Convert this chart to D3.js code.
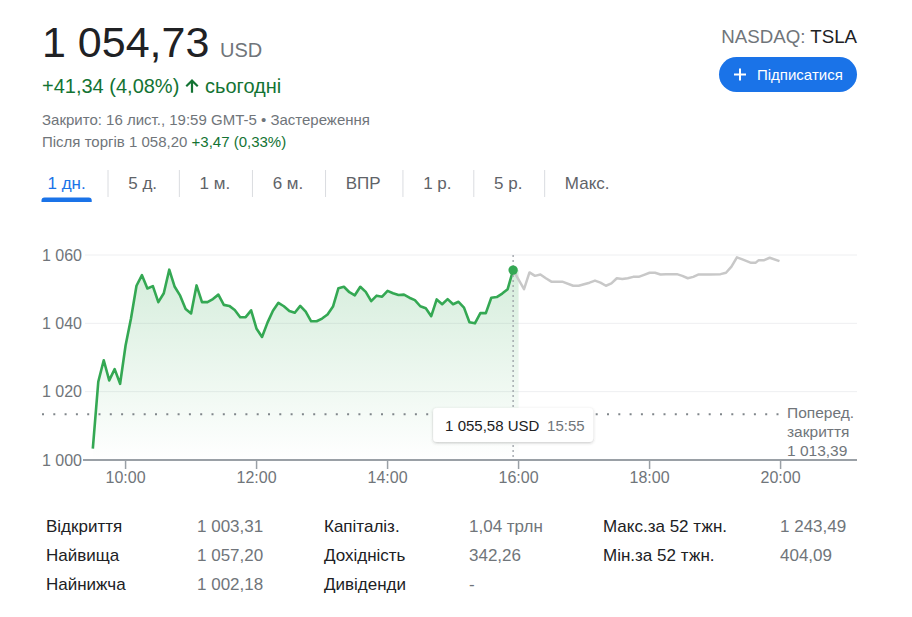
<!DOCTYPE html>
<html><head><meta charset="utf-8">
<script src="https://cdn.jsdelivr.net/npm/d3@7"></script>
<style>
body{margin:0;background:#fff}
svg{display:block}
text{font-family:Arial,"Liberation Sans",sans-serif}
</style>
</head><body>
<svg id="c" width="912" height="617"></svg>
<script>
// ---------- data ----------
const sessionTimes = ["9:30","9:35","9:40","9:45","9:50","9:55","10:00","10:05","10:10","10:15","10:20","10:25","10:30","10:35","10:40","10:45","10:50","10:55",
"11:00","11:05","11:10","11:15","11:20","11:25","11:30","11:35","11:40","11:45","11:50","11:55",
"12:00","12:05","12:10","12:15","12:20","12:25","12:30","12:35","12:40","12:45","12:50","12:55",
"13:00","13:05","13:10","13:15","13:20","13:25","13:30","13:35","13:40","13:45","13:50","13:55",
"14:00","14:05","14:10","14:15","14:20","14:25","14:30","14:35","14:40","14:45","14:50","14:55",
"15:00","15:05","15:10","15:15","15:20","15:25","15:30","15:35","15:40","15:45","15:50","15:55"];
const sessionValues = [1003.3,1022.9,1029.2,1023.3,1026.6,1022.3,1033.5,1041.5,1051.0,1054.1,1050.2,1050.9,1046.2,1048.8,1055.7,1050.7,1048.1,1044.2,
1042.9,1051.1,1046.2,1046.2,1047.1,1048.4,1045.4,1045.1,1043.9,1041.8,1041.8,1043.8,
1038.4,1036.0,1040.2,1043.7,1046.0,1045.0,1043.6,1043.1,1045.1,1043.4,1040.6,1040.6,
1041.4,1042.6,1044.9,1050.3,1050.7,1049.1,1048.2,1050.7,1049.2,1046.5,1048.1,1047.8,
1049.5,1048.8,1048.3,1048.4,1047.5,1046.8,1045.0,1044.4,1042.1,1047.0,1045.6,1047.1,
1045.6,1046.3,1044.6,1040.3,1040.0,1043.0,1043.0,1047.5,1047.7,1048.7,1050.0,1055.58];
const sessionEnd = "16:00";
const afterTimes = ["15:55","16:05","16:10","16:15","16:20","16:25","16:30","16:40","16:50","16:55","17:05","17:10","17:15","17:20","17:25","17:30","17:35","17:40","17:45","17:50","17:55",
"18:00","18:05","18:10","18:15","18:25","18:30","18:35","18:40","18:45","18:55","19:05","19:10","19:15","19:20","19:25","19:33","19:37","19:40","19:45","19:50","19:59"];
const afterValues = [1055.58,1050.0,1054.9,1053.9,1054.3,1053.2,1052.2,1052.2,1051.0,1051.0,1051.9,1052.5,1051.9,1051.0,1051.7,1053.2,1053.0,1053.2,1053.6,1053.6,1054.2,
1054.8,1054.8,1054.3,1054.4,1054.4,1053.9,1053.2,1053.6,1054.3,1054.3,1054.4,1054.8,1056.6,1059.3,1058.7,1057.7,1057.7,1058.5,1058.5,1059.2,1058.2];
const prevClose = 1013.39;
const yTickValues = [1000,1020,1040,1060];
const xTickLabels = ["10:00","12:00","14:00","16:00","18:00","20:00"];
const xDomain = ["9:21","21:10"];
const tabs = ["1 дн.","5 д.","1 м.","6 м.","ВПР","1 р.","5 р.","Макс."];
const statLabels1 = ["Відкриття","Найвища","Найнижча"];
const statValues1 = ["1 003,31","1 057,20","1 002,18"];
const statLabels2 = ["Капіталіз.","Дохідність","Дивіденди"];
const statValues2 = ["1,04 трлн","342,26","-"];
const statLabels3 = ["Макс.за 52 тжн.","Мін.за 52 тжн."];
const statValues3 = ["1 243,49","404,09"];

// ---------- helpers ----------
const GREEN="#34a853", DGREEN="#137333", GRAY="#70757a", DARK="#202124", BLUE="#1a73e8";
const loc = d3.formatLocale({decimal:",",thousands:" ",grouping:[3],currency:["",""]});
const f0 = loc.format(",.0f"), f2 = loc.format(",.2f");
const toMin = s => { const [h,m]=s.split(":").map(Number); return h*60+m; };

const svg = d3.select("#c");
const defs = svg.append("defs");
const grad = defs.append("linearGradient").attr("id","g").attr("gradientUnits","userSpaceOnUse")
  .attr("x1",0).attr("x2",0).attr("y1",255).attr("y2",460);
grad.append("stop").attr("offset",0).attr("stop-color",GREEN).attr("stop-opacity",0.22);
grad.append("stop").attr("offset",1).attr("stop-color",GREEN).attr("stop-opacity",0);
const sh = defs.append("filter").attr("id","sh").attr("x","-20%").attr("y","-40%").attr("width","140%").attr("height","200%");
sh.append("feDropShadow").attr("dx",0).attr("dy",1).attr("stdDeviation",1.5).attr("flood-color","#3c4043").attr("flood-opacity",0.3);

// ---------- header ----------
svg.append("text").attr("x",42).attr("y",57).attr("font-size",43).attr("fill",DARK).text("1 054,73");
svg.append("text").attr("x",220).attr("y",57).attr("font-size",20).attr("fill",GRAY).text("USD");
svg.append("text").attr("x",42).attr("y",93).attr("font-size",20).attr("fill",DGREEN).text("+41,34 (4,08%)");
svg.append("path").attr("fill",DGREEN)
  .attr("d","M192,79 L198.5,85.5 L197,87 L193.1,83.2 L193.1,92.8 L190.9,92.8 L190.9,83.2 L187,87 L185.5,85.5 Z");
svg.append("text").attr("x",205).attr("y",93).attr("font-size",20).attr("fill",DGREEN).text("сьогодні");
svg.append("text").attr("x",42).attr("y",124.5).attr("font-size",15).attr("fill",GRAY)
  .text("Закрито: 16 лист., 19:59 GMT-5 • Застереження");
const ah = svg.append("text").attr("x",42).attr("y",147).attr("font-size",15).attr("fill",GRAY);
ah.append("tspan").text("Після торгів 1 058,20 ");
ah.append("tspan").attr("fill",DGREEN).text("+3,47 (0,33%)");

const tk = svg.append("text").attr("x",857).attr("y",43).attr("font-size",18.7).attr("text-anchor","end");
tk.append("tspan").attr("fill",GRAY).text("NASDAQ: ");
tk.append("tspan").attr("fill",DARK).text("TSLA");
svg.append("rect").attr("x",719).attr("y",57).attr("width",138).attr("height",35).attr("rx",17.5).attr("fill",BLUE);
svg.append("path").attr("d","M734,74.5 H746 M740,68.5 V80.5").attr("stroke","#fff").attr("stroke-width",2);
svg.append("text").attr("x",757).attr("y",79.5).attr("font-size",15).attr("fill","#fff").text("Підписатися");

// ---------- tabs ----------
let tx = 47.5;
tabs.forEach((t,i)=>{
  const el = svg.append("text").attr("x",tx).attr("y",189).attr("font-size",17)
    .attr("fill", i===0?BLUE:"#5f6368").text(t);
  const w = el.node().getComputedTextLength();
  if(i===0){
    svg.append("path").attr("fill",BLUE)
      .attr("d",`M${tx-6},202 V200.5 a3,3 0 0 1 3,-3 H${tx+w+3} a3,3 0 0 1 3,3 V202 Z`);
  }
  if(i<tabs.length-1){
    const sx = tx + w + 22.3;
    svg.append("line").attr("x1",sx).attr("x2",sx).attr("y1",170).attr("y2",197)
      .attr("stroke","#dadce0").attr("stroke-width",1);
    tx = sx + 20.2;
  }
});

// ---------- chart ----------
const x = d3.scaleLinear().domain(xDomain.map(toMin)).range([83,857]);
const y = d3.scaleLinear().domain([1000,1060]).range([460,255]);

const grid = svg.append("g");
yTickValues.filter(v=>v>1000).forEach(v=>{
  grid.append("line").attr("x1",85).attr("x2",857).attr("y1",y(v)).attr("y2",y(v))
    .attr("stroke","#eeeff1").attr("stroke-width",1);
});
yTickValues.forEach(v=>{
  svg.append("text").attr("x",82).attr("y",y(v)+5.5).attr("text-anchor","end")
    .attr("font-size",16).attr("fill",GRAY).text(f0(v));
});

const sess = sessionTimes.map((t,i)=>({t:toMin(t),v:sessionValues[i]}));
const after = afterTimes.map((t,i)=>({t:toMin(t),v:afterValues[i]}));
const areaData = sess.concat([{t:toMin(sessionEnd),v:sessionValues[sessionValues.length-1]}]);

svg.append("path").datum(areaData).attr("fill","url(#g)")
  .attr("d",d3.area().x(d=>x(d.t)).y0(y(1000)).y1(d=>y(d.v)));

// prev close dotted
svg.append("line").attr("x1",42).attr("x2",786).attr("y1",y(prevClose)).attr("y2",y(prevClose))
  .attr("stroke","#80868b").attr("stroke-width",2).attr("stroke-dasharray","2,9.3");

const line = d3.line().x(d=>x(d.t)).y(d=>y(d.v));
svg.append("path").datum(after).attr("fill","none").attr("stroke","#c8c8c8").attr("stroke-width",2.5)
  .attr("stroke-linejoin","round").attr("d",line);
svg.append("path").datum(sess).attr("fill","none").attr("stroke",GREEN).attr("stroke-width",2.6)
  .attr("stroke-linejoin","round").attr("d",line);

// axis
const ax = svg.append("g").attr("transform",`translate(0,${y(1000)})`);
ax.append("line").attr("x1",83).attr("x2",857).attr("stroke","#9aa0a6").attr("stroke-width",2);
xTickLabels.forEach(t=>{
  const px = x(toMin(t));
  ax.append("line").attr("x1",px).attr("x2",px).attr("y1",0).attr("y2",9).attr("stroke","#9aa0a6").attr("stroke-width",1.5);
  ax.append("text").attr("x",px).attr("y",23).attr("text-anchor","middle").attr("font-size",16).attr("fill",GRAY).text(t);
});

// hover marker
const last = sess[sess.length-1];
svg.append("line").attr("x1",x(last.t)).attr("x2",x(last.t)).attr("y1",y(1060)).attr("y2",y(1000))
  .attr("stroke","#9aa0a6").attr("stroke-width",1.3).attr("stroke-dasharray","2,3");
svg.append("circle").attr("cx",x(last.t)).attr("cy",y(last.v)).attr("r",4.7).attr("fill",GREEN);

const tipW = 160;
const tip = svg.append("g").attr("transform",`translate(${x(last.t)-tipW/2},408)`);
tip.append("rect").attr("width",tipW).attr("height",34).attr("rx",4).attr("fill","#fff").attr("filter","url(#sh)");
tip.append("text").attr("x",12).attr("y",22.5).attr("font-size",15).attr("fill",DARK).text(f2(last.v)+" USD");
tip.append("text").attr("x",114).attr("y",22.5).attr("font-size",15).attr("fill",GRAY).text(sessionTimes[sessionTimes.length-1]);

// prev close label
const pl = svg.append("text").attr("x",787).attr("font-size",15.5).attr("fill",GRAY);
pl.append("tspan").attr("x",787).attr("y",418).text("Поперед.");
pl.append("tspan").attr("x",787).attr("y",437).text("закриття");
pl.append("tspan").attr("x",787).attr("y",456).text(f2(prevClose));

// ---------- stats ----------
const rowsY = [532,561,590];
function col(labels, values, lx, vx){
  labels.forEach((l,i)=>{
    svg.append("text").attr("x",lx).attr("y",rowsY[i]).attr("font-size",17).attr("fill",DARK).text(l);
    svg.append("text").attr("x",vx).attr("y",rowsY[i]).attr("font-size",17).attr("fill",GRAY).text(values[i]);
  });
}
col(statLabels1,statValues1,46,197);
col(statLabels2,statValues2,324,469);
col(statLabels3,statValues3,603,780);
</script>
</body></html>
